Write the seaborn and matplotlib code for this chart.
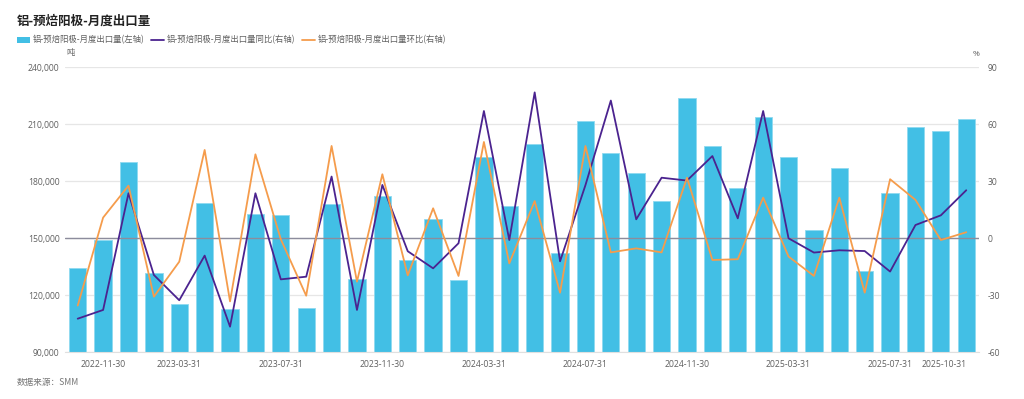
import numpy as np
import pandas as pd
import matplotlib
matplotlib.use("Agg")
import matplotlib.pyplot as plt
from matplotlib.patches import Patch
from matplotlib.lines import Line2D
import seaborn as sns

# ---------------- data ----------------
dates = [d.strftime("%Y-%m-%d") for d in pd.date_range("2022-10-31", "2025-10-31", freq="ME")
         if d.strftime("%Y-%m") != "2023-01"]
volume = [134500, 149000, 190000, 131500, 115400, 168800, 113000, 162800, 162100, 113300,
          168200, 128800, 172300, 138400, 160000, 128100, 192600, 167000, 199600, 142500,
          211600, 195100, 184400, 169600, 223800, 198400, 176500, 213700, 192600, 154200,
          186800, 132600, 173700, 208600, 206500, 212600]
yoy = [-42.3, -37.7, 23.7, -19.3, -32.6, -9.1, -46.5, 23.7, -21.6, -20.2,
       32.5, -37.7, 28.1, -6.8, -15.8, -2.6, 67.0, -0.9, 76.8, -12.1,
       28.0, 72.5, 10.0, 31.9, 30.4, 43.3, 10.5, 67.0, 0.0, -7.5,
       -6.3, -6.7, -17.5, 7.0, 12.1, 25.3]
mom = [-35.4, 10.9, 27.7, -30.7, -12.3, 46.5, -33.2, 44.2, -0.5, -30.2,
       48.6, -22.8, 33.7, -19.5, 15.8, -19.8, 50.7, -13.2, 19.6, -28.6,
       48.6, -7.4, -5.3, -7.4, 31.9, -11.4, -11.0, 21.4, -9.6, -19.8,
       21.4, -28.6, 31.1, 20.2, -0.9, 3.2]
tick_dates = ["2022-11-30", "2023-03-31", "2023-07-31", "2023-11-30", "2024-03-31",
              "2024-07-31", "2024-11-30", "2025-03-31", "2025-07-31", "2025-10-31"]
left_ticks = [90000, 120000, 150000, 180000, 210000, 240000]
right_ticks = [-60, -30, 0, 30, 60, 90]

title = "铝-预焙阳极-月度出口量"
s_vol = "铝-预焙阳极-月度出口量(左轴)"
s_yoy = "铝-预焙阳极-月度出口量同比(右轴)"
s_mom = "铝-预焙阳极-月度出口量环比(右轴)"

df = pd.DataFrame({"date": dates, "volume": volume, "yoy": yoy, "mom": mom})
df["pos"] = df.index

# ---------------- style ----------------
sns.set_style("white")
plt.rcParams["font.family"] = ["Noto Sans CJK SC", "DejaVu Sans"]
plt.rcParams["axes.unicode_minus"] = False

C_BAR = "#42bfe5"
C_YOY = "#4b238f"
C_MOM = "#f59c4c"
C_TXT = "#606060"
TICK_FONT = ["Open Sans", "DejaVu Sans"]

fig = plt.figure(figsize=(10.24, 3.99), dpi=100)
ax = fig.add_axes([0.0635, 0.117, 0.8925, 0.7143])

sns.barplot(data=df, x="pos", y="volume", color=C_BAR, width=0.68, ax=ax,
            edgecolor="#8fdaf0", linewidth=0.6, saturation=1)
ax.set_ylim(90000, 240000)
ax.set_xlim(-0.5, len(df) - 0.5)
ax.set_yticks(left_ticks)
ax.set_yticklabels([f"{v:,}" for v in left_ticks], family=TICK_FONT)
ax.yaxis.grid(True, color="#e6e6e6", linewidth=0.9)
ax.set_axisbelow(True)
ax.set_xlabel("")
ax.set_ylabel("")

ax2 = ax.twinx()
sns.lineplot(data=df, x="pos", y="yoy", color=C_YOY, linewidth=1.3, ax=ax2)
sns.lineplot(data=df, x="pos", y="mom", color=C_MOM, linewidth=1.3, ax=ax2)
ax2.set_ylim(-60, 90)
ax2.set_yticks(right_ticks)
ax2.set_yticklabels([str(v) for v in right_ticks], family=TICK_FONT)
ax2.axhline(0, color="#8c8c9c", linewidth=1.0, zorder=0.5)
ax2.set_xlabel("")
ax2.set_ylabel("")
ax2.set_xlim(-0.5, len(df) - 0.5)

tick_pos = [dates.index(t) for t in tick_dates]
ax.set_xticks(tick_pos)
labels = ax.set_xticklabels(tick_dates, family=TICK_FONT)
labels[-1].set_ha("right")

for a in (ax, ax2):
    for s in ("top", "left", "right", "bottom"):
        a.spines[s].set_visible(False)
ax.spines["bottom"].set_visible(True)
ax.spines["bottom"].set_color("#e0e0e0")

ax.tick_params(axis="y", length=0, pad=4, labelsize=6.2, labelcolor=C_TXT)
ax.tick_params(axis="x", length=0, pad=5.5, labelsize=6.2, labelcolor=C_TXT)
ax2.tick_params(axis="y", length=0, pad=6.5, labelsize=6.2, labelcolor=C_TXT)

# units
fig.text(66 / 1024, 1 - 53 / 399, "吨", fontsize=6, color=C_TXT, va="center", ha="left")
fig.text(976 / 1024, 1 - 54 / 399, "%", fontsize=6, color=C_TXT, va="center", ha="center",
         family=TICK_FONT)

# title
fig.text(17 / 1024, 1 - 21 / 399, title, fontsize=9, fontweight="bold", color="#222222",
         va="center", ha="left")

# legend
handles = [Patch(facecolor=C_BAR, edgecolor="none"),
           Line2D([0], [0], color=C_YOY, linewidth=1.3),
           Line2D([0], [0], color=C_MOM, linewidth=1.3)]
fig.legend(handles, [s_vol, s_yoy, s_mom], loc="center left",
           bbox_to_anchor=(17 / 1024, 1 - 40 / 399), ncol=3, frameon=False,
           fontsize=6, labelcolor=C_TXT, handlelength=1.5, handleheight=0.7,
           handletextpad=0.4, columnspacing=0.8, borderaxespad=0, borderpad=0)

# source
fig.text(17 / 1024, 1 - 383 / 399, "数据来源：SMM", fontsize=6.2, color="#777777",
         va="center", ha="left")

fig.savefig("out.png", dpi=100)
